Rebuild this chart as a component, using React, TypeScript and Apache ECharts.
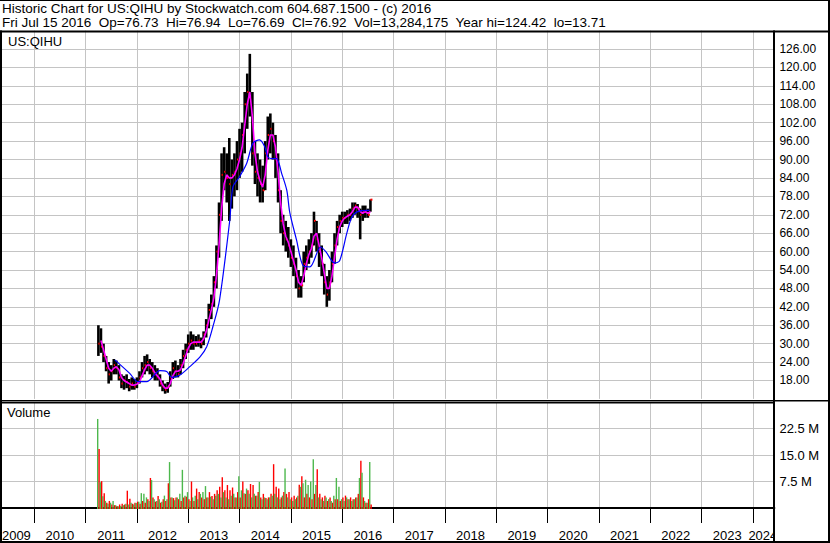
import React, { useEffect, useRef } from 'react';
import * as echarts from 'echarts';

const FONT = '"Liberation Sans", Arial, sans-serif';

const HEADER_LINE_1 = 'Historic Chart for US:QIHU by Stockwatch.com 604.687.1500 - (c) 2016';
const HEADER_LINE_2 =
  'Fri Jul 15 2016  Op=76.73  Hi=76.94  Lo=76.69  Cl=76.92  Vol=13,284,175  Year hi=124.42  lo=13.71';
const SYMBOL_LABEL = 'US:QIHU';
const VOLUME_LABEL = 'Volume';

// sample dates (decimal years), one bar per 0.05 year from Apr 2011 to Jul 2016
const FIRST_DATE = 2011.25;
const DATE_STEP = 0.05;

const priceLow = [
  26, 27, 24, 21, 17, 18, 20, 20, 18, 15.5,
  15, 15.5, 14.5, 15, 15, 15.5, 17, 19, 20, 21,
  20, 19, 18, 18, 16, 14.5, 13.7, 14, 16, 18.5,
  19, 19, 20, 22, 25, 27, 28, 28, 29, 29,
  28.5, 29.5, 32, 35, 38, 42, 48, 58, 70, 80,
  76, 70, 74, 78, 80, 84, 86, 92, 100, 104,
  88, 82, 78, 76, 76, 80, 90, 92, 90, 84,
  76, 66, 62, 60, 58, 55, 52, 48, 45, 45,
  50, 54, 56, 58, 62, 60, 55, 52, 46, 42,
  44, 50, 56, 62, 66, 68, 69, 69, 70, 71,
  72, 71, 64, 70, 71, 71, 73,
];
const priceHigh = [
  36, 35, 30, 26, 24, 23, 25, 24.5, 23, 20,
  19.5, 20, 18.5, 19, 18.5, 19, 21, 24, 26, 26.5,
  25, 24, 23, 22, 20, 18, 17, 17.5, 21, 24,
  24.5, 23, 25, 28, 30, 33, 34, 33, 32.5, 33,
  32, 34, 38, 43, 46, 52, 62, 76, 92, 94,
  92, 97, 90, 92, 96, 100, 102, 112, 118, 124.42,
  112, 96, 92, 90, 88, 96, 104, 105, 102, 98,
  92, 80, 72, 70, 68, 64, 62, 58, 54, 52,
  60, 62, 64, 66, 73, 70, 66, 62, 56, 52,
  54, 60, 66, 70, 72, 73, 73, 73.5, 74, 76,
  76, 75.5, 74, 75, 75, 74, 77,
];
const priceClose = [
  30, 29, 26, 22, 20, 21, 23, 22, 19, 17,
  18, 17.5, 16, 17, 16, 17.5, 19, 22, 23, 24,
  22, 21, 20, 19, 17, 16, 15, 16, 19, 22,
  21, 20, 23, 26, 28, 30, 31, 30, 30, 31,
  30, 33, 36, 41, 43, 50, 60, 72, 85, 86,
  84, 82, 85, 86, 90, 92, 98, 108, 112, 110,
  92, 86, 84, 82, 80, 92, 98, 100, 96, 90,
  80, 70, 66, 64, 62, 58, 56, 52, 48, 49,
  56, 58, 60, 62, 70, 64, 60, 56, 50, 46,
  50, 56, 62, 68, 70, 71, 71, 72, 72, 74,
  75, 74, 72, 73, 73, 72, 76.92,
];
// short moving average (magenta), read at the same dates
const maShort = [
  null, 31, 28, 25, 22, 21, 22, 22.5, 21.5, 19,
  18, 17.5, 17, 16.5, 16.5, 16.8, 17.5, 19.5, 21.5, 23,
  23, 22, 20.5, 19.5, 18.5, 16.5, 15.5, 15.5, 17, 19.5,
  21, 21, 21.5, 23.5, 26, 28.5, 30, 30.5, 30.5, 30.5,
  30.5, 31.5, 34, 37.5, 41, 45, 52, 62, 74, 82,
  85, 84, 84, 85, 87, 90, 94, 101, 108, 112,
  104, 92, 86, 83, 81, 85, 93, 98, 98, 94,
  86, 76, 69, 65, 63, 60, 57, 54, 50, 49,
  52, 56, 59, 61, 65, 66, 62, 58, 53, 48,
  48, 52, 58, 64, 68, 70, 71, 71.5, 72, 73,
  74.5, 74.5, 73, 72.5, 73, 72.5, 73,
];
// long moving average (blue)
const maLongDates = [
  2011.57, 2011.86, 2012.02, 2012.19, 2012.45, 2012.58, 2012.68, 2012.84, 2013.03, 2013.23,
  2013.36, 2013.48, 2013.61, 2013.81, 2013.87, 2014.0, 2014.14, 2014.26, 2014.39, 2014.49,
  2014.55, 2014.63, 2014.72, 2014.82, 2014.92, 2014.98, 2015.11, 2015.23, 2015.37, 2015.58,
  2015.68, 2015.85, 2015.95, 2016.09, 2016.18, 2016.3, 2016.53,
];
const maLongValues = [
  24.7, 20.3, 17.6, 17.6, 21.2, 20.9, 19, 19.8, 22.5, 25.7,
  29, 35.5, 44.2, 70.3, 81, 84.4, 88.8, 95.3, 96.4, 94.2,
  90.9, 90.3, 90.3, 85.5, 80, 72.6, 63.8, 55.6, 55, 61.5,
  60, 56.3, 57, 66, 70.9, 73, 73.4,
];
// volume in millions, up days (green) and down days (red)
const volumeUp = [
  25.2, 7.3, 3.3, 2, 1.2, 1.5, 2, 0.8, 0.5, 0.6,
  0.8, 1.2, 1, 1.5, 1, 1.4, 1.8, 4.2, 4, 3,
  2, 7.9, 2.5, 2, 2.5, 1.8, 3.5, 2.5, 13, 3,
  2.2, 3, 4, 10.8, 3.5, 4.5, 2, 3, 3.5, 2.5,
  4, 4.5, 6.2, 3, 3.2, 2.5, 3.5, 4, 3, 4.5,
  3, 2.5, 3.5, 4, 3, 9, 5, 4.2, 5.5, 4,
  3, 4, 3.5, 7.4, 2.5, 3, 2.5, 3, 3.5, 4,
  3, 2.5, 3.5, 11.2, 3, 2.5, 2, 2.5, 3.5, 6,
  7, 8, 6.5, 7.5, 13.8, 6.5, 3, 2.5, 2, 3,
  2.5, 2, 3.5, 8.5, 6, 2.5, 2, 3, 2.5, 2,
  2.5, 3, 8.5, 10, 2, 1.5, 13,
];
const volumeDown = [
  16.7, 7.6, 4.2, 1.5, 2, 1, 0.8, 0.6, 1, 1.2,
  1, 4.9, 2.6, 1.2, 1.5, 1.8, 1.2, 2, 1.5, 2.5,
  8.5, 3, 1.8, 3.4, 1.5, 2.5, 2, 7, 3, 2.8,
  3, 2.5, 2, 3, 3.2, 2.5, 7.5, 2, 5.5, 4.5,
  3, 2.5, 3, 4.5, 3.4, 4, 5, 6, 8.7, 5,
  6.5, 5, 5.8, 3, 4.5, 3, 7.5, 4, 5, 6.8,
  6.5, 3.5, 4.5, 3, 4, 2.8, 3, 4, 12.4, 6,
  5.5, 3, 4.5, 4, 4.5, 3, 3.5, 3, 6.6, 9,
  3, 4, 3, 2.5, 4, 11, 4, 3, 3.5, 2,
  3, 1.5, 2.5, 2.5, 2, 3, 3.5, 2.5, 3, 2.5,
  3, 4, 13.4, 3, 1.5, 2.5, 1,
];

const dates = priceLow.map((_, i) => +(FIRST_DATE + i * DATE_STEP).toFixed(3));

const YEAR_MIN = 2009;
const YEAR_MAX = 2024.42;
const PRICE_MIN = 12;
const PRICE_MAX = 132;
const PRICE_STEP = 6;
const VOL_MIN = 0;
const VOL_MAX = 30;
const VOL_STEP = 7.5;

const GRID_COLOR = '#c4c4c4';

export default function App() {
  const ref = useRef<HTMLDivElement>(null);

  useEffect(() => {
    document.body.style.margin = '0';
    if (!ref.current) return;
    const chart = echarts.init(ref.current, null, { renderer: 'svg' });

    const barData = dates.map((d, i) => [d, priceLow[i], priceHigh[i], priceClose[i]]);
    const volData = dates.map((d, i) => [d, volumeUp[i], volumeDown[i]]);
    const maShortData = dates.map((d, i) => [d, maShort[i]]).filter((p) => p[1] != null);
    const maLongData = maLongDates.map((d, i) => [d, maLongValues[i]]);

    const gridBase = { outerBoundsMode: 'none', containLabel: false, left: -17.1, width: 791.5 };

    const option: any = {
      animation: false,
      backgroundColor: '#ffffff',
      textStyle: { fontFamily: FONT },
      grid: [
        { ...gridBase, top: 30.6, height: 368.3 },
        { ...gridBase, top: 402, height: 106 },
      ],
      xAxis: [
        {
          gridIndex: 0,
          type: 'value',
          min: YEAR_MIN,
          max: YEAR_MAX,
          interval: 1,
          axisLine: { show: false },
          axisTick: { show: false },
          axisLabel: { show: false },
          splitLine: { show: true, lineStyle: { color: GRID_COLOR, width: 1 } },
        },
        {
          gridIndex: 1,
          type: 'value',
          min: YEAR_MIN,
          max: YEAR_MAX,
          interval: 1,
          offset: 2,
          axisLine: { show: true, lineStyle: { color: '#000', width: 2 } },
          axisTick: { show: true, length: 15, lineStyle: { color: '#000', width: 1 } },
          splitLine: { show: true, lineStyle: { color: GRID_COLOR, width: 1 } },
          axisLabel: {
            show: true,
            showMinLabel: true,
            showMaxLabel: true,
            margin: 19,
            color: '#000',
            fontSize: 13,
            fontFamily: FONT,
            formatter: (v: number) => {
              if (!Number.isInteger(v)) return '';
              if (v === 2009) return `{f|${v}}`;
              if (v === 2024) return `{l|${v}}`;
              return `{a|${v}}`;
            },
            rich: {
              a: { padding: [0, 0, 0, 51.3], fontSize: 13, fontFamily: FONT, color: '#000' },
              f: { padding: [0, 0, 0, 67], fontSize: 13, fontFamily: FONT, color: '#000' },
              l: { padding: [0, 0, 0, 20], fontSize: 13, fontFamily: FONT, color: '#000' },
            },
          },
        },
      ],
      yAxis: [
        {
          gridIndex: 0,
          type: 'value',
          position: 'right',
          min: PRICE_MIN,
          max: PRICE_MAX,
          interval: PRICE_STEP,
          axisLine: { show: false },
          axisTick: { show: false },
          axisLabel: {
            margin: 5,
            color: '#000',
            fontSize: 12,
            fontFamily: FONT,
            formatter: (v: number) => (v === PRICE_MIN || v === PRICE_MAX ? '' : v.toFixed(2)),
          },
          splitLine: {
            show: true,
            showMinLine: false,
            showMaxLine: false,
            lineStyle: { color: GRID_COLOR, width: 1 },
          },
        },
        {
          gridIndex: 1,
          type: 'value',
          position: 'right',
          min: VOL_MIN,
          max: VOL_MAX,
          interval: VOL_STEP,
          axisLine: { show: false },
          axisTick: { show: false },
          axisLabel: {
            margin: 5,
            color: '#000',
            fontSize: 13,
            fontFamily: FONT,
            formatter: (v: number) => (v === VOL_MIN || v === VOL_MAX ? '' : v.toFixed(1) + ' M'),
          },
          splitLine: {
            show: true,
            showMinLine: false,
            showMaxLine: false,
            lineStyle: { color: GRID_COLOR, width: 1 },
          },
        },
      ],
      series: [
        {
          type: 'custom',
          name: 'Price',
          xAxisIndex: 0,
          yAxisIndex: 0,
          data: barData,
          encode: { x: 0, y: [1, 2] },
          renderItem: (params: any, api: any) => {
            const t = api.value(0);
            const hi = api.coord([t, api.value(2)]);
            const lo = api.coord([t, api.value(1)]);
            const cl = api.coord([t, api.value(3)]);
            const w = 2.6;
            return {
              type: 'group',
              children: [
                {
                  type: 'rect',
                  shape: { x: hi[0] - w / 2, y: hi[1], width: w, height: Math.max(1, lo[1] - hi[1]) },
                  style: { fill: '#000000' },
                },
                {
                  type: 'rect',
                  shape: { x: cl[0], y: cl[1] - 1, width: 2, height: 2 },
                  style: { fill: '#ff0000' },
                },
              ],
            };
          },
          z: 2,
        },
        {
          type: 'line',
          name: 'MA short',
          xAxisIndex: 0,
          yAxisIndex: 0,
          data: maShortData,
          showSymbol: false,
          symbol: 'none',
          lineStyle: { color: '#ff00ff', width: 1.6 },
          z: 3,
        },
        {
          type: 'line',
          name: 'MA long',
          xAxisIndex: 0,
          yAxisIndex: 0,
          data: maLongData,
          showSymbol: false,
          symbol: 'none',
          smooth: 0.3,
          lineStyle: { color: '#0000ff', width: 1.2 },
          z: 4,
        },
        {
          type: 'custom',
          name: 'Volume',
          xAxisIndex: 1,
          yAxisIndex: 1,
          data: volData,
          encode: { x: 0, y: [1, 2] },
          renderItem: (params: any, api: any) => {
            const t = api.value(0);
            const base = api.coord([t, 0]);
            const up = api.coord([t, api.value(1)]);
            const dn = api.coord([t, api.value(2)]);
            const w = 1.4;
            return {
              type: 'group',
              children: [
                {
                  type: 'rect',
                  shape: { x: base[0] - w, y: up[1], width: w, height: base[1] - up[1] + 1 },
                  style: { fill: '#4db84d' },
                },
                {
                  type: 'rect',
                  shape: { x: base[0], y: dn[1], width: w, height: base[1] - dn[1] + 1 },
                  style: { fill: '#ff0000' },
                },
              ],
            };
          },
        },
      ],
      graphic: {
        elements: [
          // clip the right panel in the year strip
          { type: 'rect', z: 100, shape: { x: 775, y: 511, width: 55, height: 32 }, style: { fill: '#ffffff' } },
          // frame lines
          { type: 'rect', z: 110, shape: { x: 0, y: 0, width: 830, height: 1 }, style: { fill: '#000' } },
          { type: 'rect', z: 110, shape: { x: 0, y: 30.5, width: 830, height: 2 }, style: { fill: '#000' } },
          { type: 'rect', z: 110, shape: { x: 0, y: 30.5, width: 2, height: 512.5 }, style: { fill: '#000' } },
          { type: 'rect', z: 110, shape: { x: 773, y: 30.5, width: 2, height: 512.5 }, style: { fill: '#000' } },
          { type: 'rect', z: 110, shape: { x: 828, y: 0, width: 2, height: 543 }, style: { fill: '#000' } },
          { type: 'rect', z: 110, shape: { x: 0, y: 400, width: 830, height: 1.5 }, style: { fill: '#000' } },
          { type: 'rect', z: 110, shape: { x: 0, y: 402, width: 774, height: 1.5 }, style: { fill: '#000' } },
          { type: 'rect', z: 110, shape: { x: 0, y: 541, width: 830, height: 2 }, style: { fill: '#000' } },
          // texts
          {
            type: 'text', z: 120, x: 2, y: 1,
            style: { text: HEADER_LINE_1, fontSize: 13.5, fontFamily: FONT, fill: '#000', verticalAlign: 'top' },
          },
          {
            type: 'text', z: 120, x: 2, y: 15,
            style: { text: HEADER_LINE_2, fontSize: 13.5, fontFamily: FONT, fill: '#000', verticalAlign: 'top' },
          },
          {
            type: 'text', z: 120, x: 8, y: 35,
            style: { text: SYMBOL_LABEL, fontSize: 13, fontFamily: FONT, fill: '#000', verticalAlign: 'top' },
          },
          {
            type: 'text', z: 120, x: 7, y: 406,
            style: { text: VOLUME_LABEL, fontSize: 13, fontFamily: FONT, fill: '#000', verticalAlign: 'top' },
          },
        ],
      },
    };

    chart.setOption(option);
    return () => chart.dispose();
  }, []);

  return <div ref={ref} style={{ width: 830, height: 543, position: 'absolute', left: 0, top: 0 }} />;
}
